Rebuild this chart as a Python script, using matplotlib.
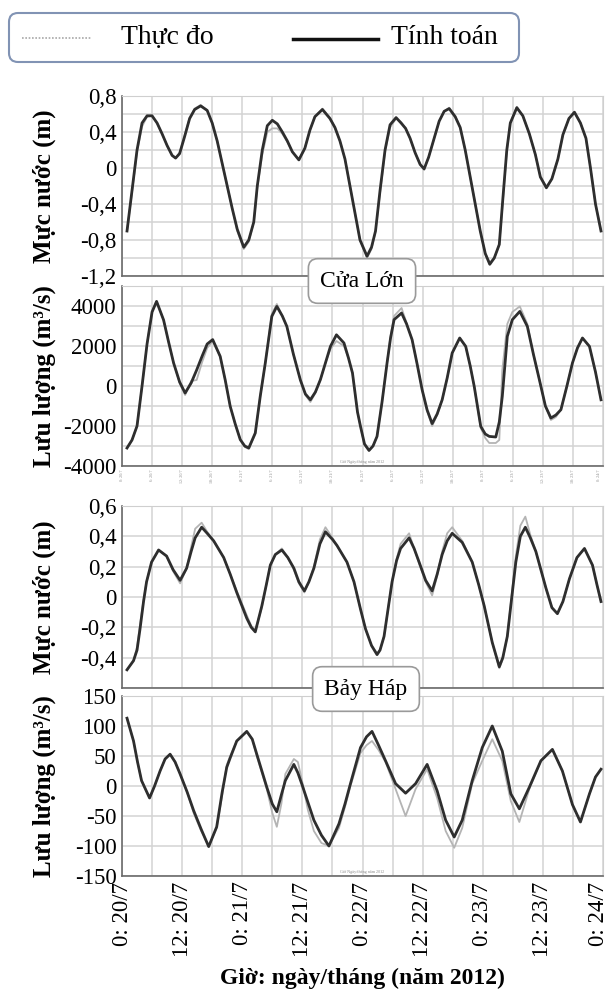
import numpy as np
import matplotlib
matplotlib.use('Agg')
import matplotlib.pyplot as plt
import matplotlib.transforms as mtransforms
from matplotlib.patches import FancyBboxPatch

plt.rcParams['font.family'] = ['Liberation Serif', 'DejaVu Serif']

# ---- dữ liệu (giờ tính từ 0:00 20/7/2012) ----
# Cửa Lớn - mực nước (m)
t1 = [1, 2, 3, 4, 5, 6, 7, 8, 9, 10,
      10.7, 11.5, 12.5, 13.5, 14.5, 15.7, 17, 18, 19, 20,
      21, 22, 23, 24.3, 25.3, 26.3, 27, 28, 29, 30,
      31, 32, 33, 34, 35.3, 36.5, 37.5, 38.5, 40, 41.5,
      42.5, 43.5, 44.5, 45.5, 46.5, 47.5, 48.9, 49.8, 50.6, 51.5,
      52.5, 53.5, 54.7, 55.7, 56.6, 57.5, 58.5, 59.5, 60.3, 61.2,
      62.3, 63.3, 64.3, 65.3, 66.5, 67.5, 68.5, 69.5, 70.5, 71.5,
      72.5, 73.4, 74.3, 75.3, 76, 76.8, 77.5, 78.8, 80, 81.3,
      82.5, 83.5, 84.7, 85.8, 87, 88, 89.2, 90.3, 91.5, 92.6,
      93.5, 94.5, 95.6]
cl_h_tinh = [-0.70, -0.25, 0.20, 0.50, 0.58, 0.58, 0.50, 0.38, 0.25, 0.14,
             0.11, 0.16, 0.35, 0.55, 0.65, 0.69, 0.64, 0.50, 0.30, 0.05,
             -0.20, -0.45, -0.68, -0.88, -0.80, -0.60, -0.20, 0.20, 0.47, 0.53,
             0.49, 0.40, 0.30, 0.18, 0.09, 0.22, 0.42, 0.57, 0.65, 0.55,
             0.45, 0.30, 0.10, -0.20, -0.50, -0.80, -0.98, -0.88, -0.70, -0.25,
             0.20, 0.48, 0.56, 0.50, 0.44, 0.33, 0.17, 0.04, -0.01, 0.12,
             0.33, 0.52, 0.63, 0.66, 0.57, 0.45, 0.20, -0.10, -0.40, -0.70,
             -0.95, -1.07, -1.00, -0.85, -0.35, 0.20, 0.50, 0.67, 0.58, 0.38,
             0.15, -0.10, -0.22, -0.12, 0.10, 0.37, 0.55, 0.62, 0.50, 0.33,
             0.00, -0.40, -0.70]
cl_h_do = [-0.70, -0.27, 0.18, 0.46, 0.57, 0.58, 0.50, 0.38, 0.25, 0.14,
           0.11, 0.17, 0.36, 0.56, 0.66, 0.70, 0.64, 0.50, 0.30, 0.05,
           -0.20, -0.45, -0.70, -0.90, -0.82, -0.60, -0.22, 0.15, 0.40, 0.44,
           0.44, 0.38, 0.29, 0.18, 0.09, 0.22, 0.42, 0.57, 0.66, 0.56,
           0.45, 0.30, 0.10, -0.20, -0.50, -0.80, -1.00, -0.90, -0.70, -0.28,
           0.18, 0.45, 0.55, 0.51, 0.44, 0.33, 0.17, 0.04, -0.02, 0.12,
           0.33, 0.52, 0.63, 0.67, 0.58, 0.45, 0.20, -0.10, -0.40, -0.70,
           -0.95, -1.05, -1.00, -0.85, -0.38, 0.18, 0.50, 0.68, 0.58, 0.38,
           0.15, -0.10, -0.21, -0.12, 0.10, 0.37, 0.55, 0.62, 0.50, 0.33,
           0.00, -0.40, -0.70]

# Cửa Lớn - lưu lượng (m3/s)
t2 = [1, 2, 3, 4, 5, 6, 6.9, 8.3, 9.3, 10.3,
      11.5, 12.6, 13.8, 14.9, 16, 17, 18.1, 19.6, 20.6, 21.6,
      22.6, 23.6, 24.5, 25.3, 26.6, 27.6, 28.6, 29.9, 30.9, 32,
      32.9, 34.2, 35.6, 36.6, 37.6, 38.6, 39.6, 40.6, 41.6, 42.8,
      44.3, 45.2, 46, 47, 47.6, 48.4, 49.3, 50.1, 50.9, 51.9,
      52.9, 53.6, 54.3, 55.8, 56.8, 57.9, 58.9, 59.9, 60.9, 61.9,
      62.9, 63.9, 64.9, 65.9, 67.4, 68.6, 69.5, 70.3, 71.6, 72.5,
      73.3, 74.6, 75.3, 75.9, 76.9, 77.9, 79.4, 80.9, 82.1, 83.3,
      84.5, 85.6, 86.6, 87.6, 88.8, 89.9, 90.9, 91.9, 93.3, 94.5,
      95.6]
cl_q_tinh = [-3100, -2700, -2000, 0, 2100, 3700, 4230, 3300, 2200, 1150,
             200, -350, 150, 800, 1500, 2100, 2320, 1480, 300, -1020,
             -1900, -2680, -3000, -3100, -2350, -500, 1150, 3480, 3980, 3500,
             2980, 1600, 300, -400, -690, -300, 320, 1150, 1980, 2560,
             2150, 1400, 650, -1300, -2020, -2900, -3220, -3000, -2520, -800,
             1150, 2400, 3315, 3650, 3100, 2315, 1100, -185, -1200, -1880,
             -1400, -690, 400, 1650, 2400, 1980, 1000, -20, -2020, -2400,
             -2520, -2550, -1800, -520, 2480, 3315, 3730, 2980, 1600, 315,
             -1000, -1600, -1450, -1185, 0, 1150, 1900, 2400, 1980, 700,
             -690]
cl_q_do = [-3100, -2700, -2000, 0, 2100, 3700, 4250, 3300, 2200, 1150,
           150, -450, 250, 300, 1200, 1900, 2250, 1480, 300, -1020,
           -1900, -2680, -3050, -3150, -2400, -500, 1150, 3600, 4100, 3500,
           2980, 1600, 300, -450, -800, -350, 320, 1150, 1850, 2250,
           2000, 1400, 650, -1300, -2020, -2950, -3250, -3000, -2520, -800,
           1150, 2500, 3500, 3900, 3150, 2315, 1100, -185, -1250, -2000,
           -1450, -690, 400, 1650, 2400, 1980, 1000, -20, -2100, -2600,
           -2850, -2850, -2700, 800, 3100, 3700, 3980, 3100, 1600, 315,
           -1000, -1700, -1550, -1185, 0, 1150, 1900, 2400, 1980, 700,
           -690]

# Bảy Háp - mực nước (m)
t3 = [1, 2.3, 3, 3.6, 4.3, 4.9, 5.9, 7.3, 8.9, 10.2,
      11.6, 12.9, 13.8, 14.6, 15.9, 17, 18.3, 20.3, 21.6, 22.9,
      24.9, 25.8, 26.6, 27.9, 28.8, 29.6, 30.6, 31.9, 33.1, 34.3,
      35.3, 36.4, 37.3, 38.3, 39.5, 40.6, 42, 42.9, 44.9, 46.3,
      47.6, 48.6, 49.8, 50.9, 51.5, 52.3, 53.9, 54.8, 55.6, 57.3,
      58.3, 59.3, 60.6, 61.9, 62.9, 63.9, 64.9, 65.9, 67.9, 69.9,
      71.2, 72.3, 73.9, 75.3, 76, 76.9, 77.8, 78.6, 79.5, 80.5,
      81.5, 82.6, 84.6, 85.8, 86.9, 88, 89.3, 90.8, 92.3, 93.9,
      94.8, 95.6]
bh_h_tinh = [-0.48, -0.42, -0.35, -0.21, -0.03, 0.10, 0.23, 0.31, 0.27, 0.18,
             0.11, 0.19, 0.30, 0.39, 0.46, 0.42, 0.37, 0.26, 0.15, 0.03,
             -0.14, -0.20, -0.23, -0.06, 0.08, 0.21, 0.28, 0.31, 0.26, 0.19,
             0.10, 0.04, 0.10, 0.19, 0.35, 0.43, 0.38, 0.34, 0.23, 0.10,
             -0.08, -0.21, -0.32, -0.38, -0.35, -0.26, 0.10, 0.24, 0.32, 0.39,
             0.32, 0.23, 0.11, 0.04, 0.15, 0.28, 0.37, 0.42, 0.36, 0.23,
             0.08, -0.06, -0.30, -0.46, -0.40, -0.26, 0.00, 0.23, 0.40, 0.46,
             0.39, 0.30, 0.06, -0.07, -0.11, -0.03, 0.12, 0.26, 0.32, 0.21,
             0.08, -0.03]
bh_h_do = [-0.48, -0.42, -0.33, -0.18, -0.02, 0.10, 0.23, 0.31, 0.27, 0.17,
           0.09, 0.19, 0.33, 0.45, 0.49, 0.43, 0.37, 0.26, 0.15, 0.04,
           -0.12, -0.19, -0.22, -0.07, 0.08, 0.21, 0.28, 0.32, 0.26, 0.18,
           0.09, 0.03, 0.10, 0.20, 0.38, 0.46, 0.39, 0.34, 0.23, 0.10,
           -0.08, -0.21, -0.32, -0.37, -0.35, -0.26, 0.10, 0.25, 0.35, 0.42,
           0.32, 0.22, 0.10, 0.01, 0.14, 0.30, 0.42, 0.46, 0.37, 0.23,
           0.08, -0.06, -0.30, -0.47, -0.41, -0.26, 0.02, 0.27, 0.47, 0.53,
           0.41, 0.30, 0.06, -0.07, -0.11, -0.03, 0.12, 0.26, 0.32, 0.21,
           0.08, -0.03]

# Bảy Háp - lưu lượng (m3/s)
t4 = [1, 2.3, 3.1, 3.9, 5.5, 6.5, 7.6, 8.6, 9.6, 10.6,
      11.6, 13, 14.3, 15.8, 17.3, 18.9, 20, 20.9, 21.6, 22.9,
      24.9, 26, 26.9, 28.9, 30, 30.9, 31.8, 32.6, 34.3, 35.1,
      35.9, 37.1, 38.3, 39.8, 41.3, 43.3, 44.5, 45.6, 47.6, 48.8,
      49.9, 51.2, 52.6, 54.6, 56.6, 58.6, 60.9, 62.9, 64.6, 66.3,
      67.9, 69.9, 71.9, 73.9, 75.9, 77.6, 79.3, 81.3, 83.6, 85.9,
      87.9, 89.9, 91.5, 93.3, 94.5, 95.6]
bh_q_tinh = [113, 75, 40, 9, -20, 0, 25, 45, 53, 40,
             20, -10, -41, -72, -101, -68, -10, 31, 47, 75,
             91, 78, 53, -2, -30, -43, -15, 9, 36, 22,
             3, -27, -57, -82, -100, -63, -30, 4, 64, 82,
             91, 68, 42, 4, -12, 4, 36, -8, -57, -85,
             -57, 9, 64, 100, 58, -13, -38, -2, 42, 61,
             25, -31, -60, -13, 15, 28]
bh_q_do = [113, 75, 40, 9, -20, 0, 25, 45, 53, 40,
           20, -10, -45, -75, -100, -70, -15, 35, 50, 75,
           91, 78, 50, -5, -45, -68, -30, 20, 45, 40,
           10, -40, -75, -95, -100, -70, -35, 0, 55, 68,
           75, 60, 40, -5, -50, -5, 28, -20, -75, -103,
           -70, 4, 42, 78, 42, -25, -60, -5, 42, 61,
           25, -31, -60, -13, 15, 28]

# nhãn trục
yt1 = [0.8, 0.4, 0, -0.4, -0.8, -1.2]
yl1 = ['0,8', '0,4', '0', '-0,4', '-0,8', '-1,2']
yt2 = [4000, 2000, 0, -2000, -4000]
yl2 = ['4000', '2000', '0', '-2000', '-4000']
yt3 = [0.6, 0.4, 0.2, 0, -0.2, -0.4]
yl3 = ['0,6', '0,4', '0,2', '0', '-0,2', '-0,4']
yt4 = [150, 100, 50, 0, -50, -100, -150]
yl4 = ['150', '100', '50', '0', '-50', '-100', '-150']
xt = [0, 12, 24, 36, 48, 60, 72, 84, 96]
xl = ['0: 20/7', '12: 20/7', '0: 21/7', '12: 21/7', '0: 22/7',
      '12: 22/7', '0: 23/7', '12: 23/7', '0: 24/7']

W, H = 611, 996
fig = plt.figure(figsize=(W / 100, H / 100), dpi=100)


def px_axes(left, top, right, bottom):
    return fig.add_axes([left / W, 1 - bottom / H, (right - left) / W, (bottom - top) / H])


ax1 = px_axes(122, 96, 603, 276)
ax2 = px_axes(122, 286, 603, 466)
ax3 = px_axes(122, 506, 603, 688)
ax4 = px_axes(122, 696, 603, 876)

panels = [
    (ax1, t1, cl_h_do, cl_h_tinh, (-1.2, 0.8), np.arange(-1.2, 0.81, 0.2), yt1, yl1, 'Mực nước (m)'),
    (ax2, t2, cl_q_do, cl_q_tinh, (-4000, 5000), np.arange(-4000, 5001, 1000), yt2, yl2, 'Lưu lượng (m³/s)'),
    (ax3, t3, bh_h_do, bh_h_tinh, (-0.6, 0.6), np.arange(-0.6, 0.61, 0.2), yt3, yl3, 'Mực nước (m)'),
    (ax4, t4, bh_q_do, bh_q_tinh, (-150, 150), np.arange(-150, 151, 50), yt4, yl4, 'Lưu lượng (m³/s)'),
]

for ax, t, do, tinh, ylim, grid_y, yt, yl, ylab in panels:
    ax.plot(t, do, color='#b4b4b4', lw=1.3, zorder=2)
    ax.plot(t, tinh, color='#2e2e2e', lw=2.0, zorder=3, solid_joinstyle='round')
    ax.set_xlim(0, 96)
    ax.set_ylim(*ylim)
    ax.set_xticks(np.arange(0, 97, 6))
    ax.set_yticks(grid_y, minor=True)
    ax.set_yticks(yt)
    ax.set_yticklabels(yl)
    ax.grid(True, which='both', color='#d3d3d3', lw=1.1)
    ax.set_axisbelow(True)
    ax.tick_params(which='both', length=0, labelsize=16.5, pad=4)
    ax.tick_params(axis='x', labelbottom=False)
    for s in ['top', 'right']:
        ax.spines[s].set_color('#cfcfcf')
    for s in ['left', 'bottom']:
        ax.spines[s].set_color('#6a6a6a')
        ax.spines[s].set_linewidth(1.2)
    ax.set_ylabel(ylab, fontsize=18, fontweight='bold')
    ax.yaxis.set_label_coords((56 - 122) / 481, 0.5)

# nhãn trục x của panel dưới cùng
ax4.set_xticks(xt)
ax4.set_xticklabels(xl, rotation=90, fontsize=16.5)
ax4.tick_params(axis='x', labelbottom=True, pad=4)
ax4.set_xticks(np.arange(0, 97, 6), minor=True)
ax4.grid(True, which='minor', axis='x', color='#d3d3d3', lw=1.1)
# nhãn cuối sát mép phải: dịch vào trong một chút cho khỏi bị cắt
last = ax4.get_xticklabels()[-1]
last.set_transform(last.get_transform() +
                   mtransforms.ScaledTranslation(-5 / 100, 0, fig.dpi_scale_trans))

# chữ rất nhỏ còn sót lại từ đồ thị gốc
for h in range(0, 97, 6):
    ax2.text(min(h, 95.2), -0.02, '%d: %d/7' % (h % 24, 20 + h // 24),
             transform=ax2.get_xaxis_transform(),
             rotation=90, fontsize=3, color='#8a8a8a', ha='center', va='top')
for ax in (ax2, ax4):
    ax.text(48, 0.012, 'Giờ Ngày/tháng năm 2012', transform=ax.get_xaxis_transform(),
            fontsize=3, color='#8a8a8a', ha='center', va='bottom')

# lớp phủ vẽ chú giải và nhãn trạm (toạ độ pixel)
ov = fig.add_axes([0, 0, 1, 1], zorder=10)
ov.set_xlim(0, W)
ov.set_ylim(H, 0)
ov.axis('off')
ov.patch.set_alpha(0)

ov.add_patch(FancyBboxPatch((9, 13), 510, 49, boxstyle='round,pad=0,rounding_size=9',
                            ec='#8193b4', fc='white', lw=1.5))
ov.plot([22, 92], [38, 38], color='#a8a8a8', lw=1.2, ls=(0, (1, 1)))
ov.text(121, 37, 'Thực đo', fontsize=20, ha='left', va='center')
ov.plot([293, 378], [39, 39], color='#111111', lw=2.5)
ov.text(391, 37, 'Tính toán', fontsize=20, ha='left', va='center')

box = dict(boxstyle='round,pad=0.5,rounding_size=0.4', fc='white', ec='#9a9a9a', lw=1.2)
ov.text(362, 281, 'Cửa Lớn', fontsize=17, ha='center', va='center', bbox=box)
ov.text(366, 689, 'Bảy Háp', fontsize=17, ha='center', va='center', bbox=box)

ov.text(362, 978, 'Giờ: ngày/tháng (năm 2012)', fontsize=17, fontweight='bold',
        ha='center', va='center')

fig.savefig('out.png', dpi=100)
